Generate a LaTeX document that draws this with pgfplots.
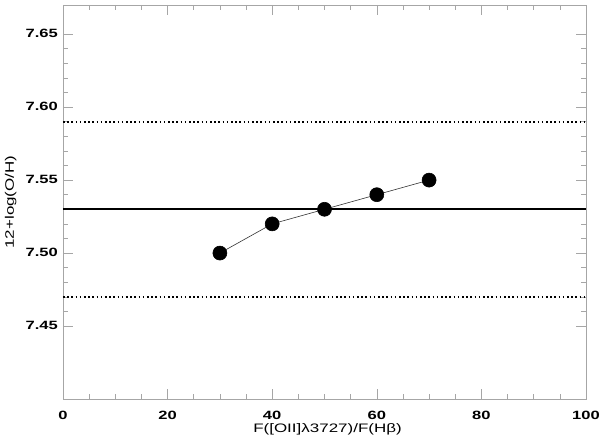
\documentclass[border=0pt]{standalone}
\usepackage{fontspec}
\setmainfont[FakeStretch=1.38]{Liberation Sans}
\usepackage{pgfplots}
\pgfplotsset{compat=1.18}
\begin{document}
\begin{tikzpicture}
  \useasboundingbox (-63pt,-44pt) rectangle (537pt,399pt);
  \begin{axis}[
    scale only axis,
    width=523pt, height=394pt,
    xmin=0, xmax=100, ymin=7.40, ymax=7.67,
    xtick={0,20,...,100}, minor x tick num=3,
    ytick={7.45,7.50,7.55,7.60,7.65}, minor y tick num=4,
    tick align=inside,
    major tick length=10pt, minor tick length=5pt,
    axis line style={gray!70, line width=0.6pt},
    every tick/.style={gray!70, line width=0.6pt},
    /pgf/number format/assume math mode=true,
    yticklabel style={/pgf/number format/fixed, /pgf/number format/fixed zerofill, /pgf/number format/precision=2},
    ticklabel style={font=\bfseries\fontsize{12}{12}\selectfont, inner sep=0pt},
    xticklabel style={anchor=north, yshift=-12pt},
    yticklabel style={anchor=east, xshift=-5pt, yshift=1pt},
    xlabel={F([OII]λ3727)/F(Hβ)},
    ylabel={12+log(O/H)},
    label style={font=\fontsize{12.3}{12}\selectfont, inner sep=0pt},
    xlabel style={at={(axis description cs:0.5,0)}, anchor=base, yshift=-34pt, xshift=3pt},
    ylabel style={at={(axis description cs:0,0.5)}, anchor=base, yshift=49pt},
  ]
    \addplot[black, line width=1.6pt, dash pattern=on 1.6pt off 2.6pt, forget plot] coordinates {(0,7.59) (100,7.59)};
    \addplot[black, line width=1.6pt, dash pattern=on 1.6pt off 2.6pt, forget plot] coordinates {(0,7.47) (100,7.47)};
    \addplot[black, line width=1.6pt, forget plot] coordinates {(0,7.53) (100,7.53)};
    \addplot[black!80, line width=0.6pt, mark=*, mark size=7pt, mark options={solid, fill=black, draw=black}]
      coordinates {(30,7.50) (40,7.52) (50,7.53) (60,7.54) (70,7.55)};
  \end{axis}
\end{tikzpicture}
\end{document}
